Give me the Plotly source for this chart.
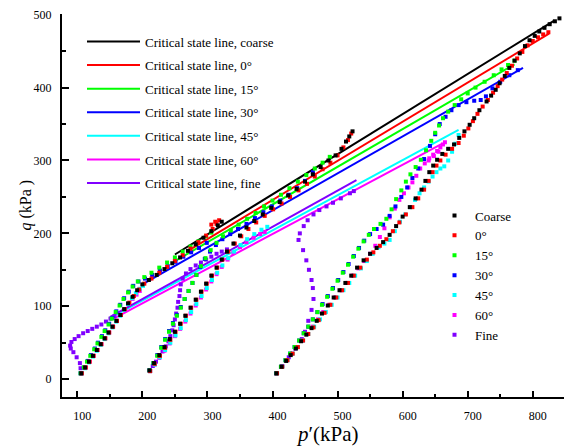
import plotly.graph_objects as go

# ---------------- data (p', q in kPa) ----------------
coarse = [
    # p0 = 100 kPa
    (106,8),(112,16),(118,24),(124,32),(130,40),(136,48),(142,56),(148,64),(154,72),(160,80),(166,88),
    (172,96),(178,104),(185,113),(192,122),(200,130),(210,136),(222,143),(234,151),(246,159),(258,167),
    (270,176),(282,185),(294,194),(306,203),(316,211),(322,216),
    # p0 = 200 kPa
    (211,12),(218,22),(226,33),(234,44),(242,55),(250,65),(258,76),(266,87),(274,98),(282,109),(290,120),
    (298,131),(306,142),(314,153),(322,164),(330,175),(340,186),(350,197),(360,208),(372,217),(385,226),
    (398,235),(411,243),(424,252),(437,261),(450,271),(462,281),(474,291),(486,300),(497,307),(506,316),
    (513,326),(518,333),(523,340),
    # p0 = 400 kPa
    (406,8),(414,17),(421,25),(428,33),(436,42),(444,52),(452,61),(460,70),(468,80),(476,90),(485,101),
    (494,112),(503,122),(512,132),(521,142),(530,153),(540,163),(550,172),(560,180),(570,188),(580,198),
    (590,210),(600,223),(611,236),(620,248),(629,260),(635,272),(641,284),(647,293),(653,301),(661,309),
    (670,316),(679,322),(687,331),(695,340),(703,349),(710,358),(718,369),(729,381),(736,389),(743,397),
    (749,406),(757,416),(764,427),(772,437),(780,447),(788,457),(795,465),(803,471),(810,477),(818,482),
    (826,487),(834,491),(841,495),
]
deg0 = [
    (107,8),(113,16),(119,24),(125,32),(131,40),(137,48),(143,56),(149,64),(155,72),(161,80),(167,88),
    (173,96),(180,105),(187,114),(195,123),(203,131),(214,138),(226,146),(238,154),(250,162),(262,170),
    (274,179),(286,188),(298,197),(308,206),(314,213),(318,218),(312,216),(306,212),
    (212,11),(219,21),(227,32),(235,43),(243,54),(251,65),(259,76),(267,87),(275,98),(283,109),(291,120),
    (299,131),(307,142),(315,153),(323,164),(332,175),(342,186),(352,196),(363,206),(375,215),(388,224),
    (401,233),(414,241),(427,250),(440,259),(453,268),(465,278),(477,288),(489,297),(500,307),(509,318),
    (516,328),(521,337),
    (407,8),(415,17),(423,26),(431,35),(439,44),(447,53),(455,62),(463,71),(471,81),(480,91),(489,102),
    (498,112),(507,122),(516,132),(525,142),(535,153),(545,164),(555,174),(565,183),(575,192),(585,203),
    (595,215),(605,226),(615,236),(624,248),(633,260),(640,272),(646,284),(652,293),(658,300),(666,308),
    (676,316),(686,324),(694,334),(701,344),(708,354),(715,364),(723,374),(731,383),(739,393),(746,402),
    (753,411),(760,420),(768,430),(776,440),(784,449),(792,458),(800,464),(808,469),(816,473),(824,476),
]
deg15 = [
    (105,8),(110,16),(115,24),(120,32),(126,41),(131,49),(137,58),(142,66),(148,75),(153,83),(159,92),
    (165,101),(171,110),(178,119),(185,127),(193,134),(203,140),(214,146),(226,153),(238,160),(250,167),
    (262,175),(274,182),(286,189),(298,196),(306,201),
    (211,12),(217,22),(223,32),(229,43),(235,54),(241,65),(247,76),(253,87),(259,98),(265,110),(271,121),
    (277,132),(283,143),(290,155),(297,166),(305,177),(314,187),(324,196),(336,204),(348,212),(361,220),
    (374,228),(387,237),(400,245),(413,253),(426,262),(439,271),(452,280),(465,289),(477,297),(488,305),
    (406,8),(413,17),(420,26),(427,35),(434,44),(441,53),(448,63),(455,72),(462,82),(469,92),(476,102),
    (484,113),(492,124),(500,135),(508,146),(516,157),(524,168),(532,179),(540,189),(548,198),(556,206),
    (566,213),(575,220),(583,233),(590,247),(598,259),(605,271),(612,281),(620,291),(628,301),(636,314),
    (644,327),(650,338),(656,348),(662,358),(670,367),(680,376),(690,384),(700,392),(712,400),(726,408),
    (740,417),(752,425),(762,431),(772,437),
]
deg30 = [
    (105,8),(110,16),(116,25),(121,33),(127,42),(132,50),(138,59),(143,67),(149,76),(154,84),(160,93),
    (166,102),(172,111),(179,120),(186,128),(194,134),(204,138),(215,143),(227,149),(239,155),(251,161),
    (263,168),(275,174),(287,180),(299,187),
    (211,12),(217,22),(223,33),(229,44),(235,55),(241,66),(247,77),(253,88),(259,99),(265,110),(271,121),
    (277,132),(283,143),(289,154),(296,165),(304,175),(313,184),(323,192),(335,199),(347,206),(360,213),
    (373,221),(386,229),(399,237),(412,245),(425,253),(438,262),(450,272),(462,284),
    (406,8),(413,17),(420,26),(427,35),(434,44),(441,53),(448,63),(455,72),(462,82),(469,92),(477,103),
    (485,114),(493,125),(501,136),(509,147),(517,158),(525,169),(533,180),(541,190),(550,199),(560,206),
    (570,212),(580,224),(589,237),(598,250),(607,263),(615,276),(624,289),(633,302),(642,320),(650,336),
    (657,350),(666,360),(675,369),(686,376),(698,380),(710,382),(720,383),(728,388),(738,399),(750,408),
    (764,417),(777,424),
]
deg45 = [
    (107,8),(112,15),(118,23),(124,31),(130,39),(136,47),(142,55),(148,63),(154,71),(160,79),(166,87),
    (172,95),(178,103),(184,111),(190,118),(196,124),(201,128),
    (212,11),(219,20),(227,30),(235,40),(243,50),(251,60),(259,70),(267,81),(275,92),(283,103),(291,114),
    (299,125),(307,136),(315,146),(323,156),(332,166),(341,175),(351,184),(361,192),(372,199),(383,205),
    (392,209),
    (407,8),(415,17),(423,26),(431,35),(439,44),(447,53),(455,62),(464,72),(473,82),(482,92),(491,102),
    (500,112),(509,122),(518,132),(527,142),(536,152),(545,162),(554,172),(563,181),(572,186),(580,191),
    (588,203),(596,216),(604,226),(612,236),(619,246),(626,255),(633,263),(640,271),(646,278),(652,284),
    (658,289),(664,292),(670,300),(676,312),(681,323),(686,335),
]
deg60 = [
    (107,8),(113,16),(119,24),(125,32),(131,40),(137,48),(143,56),(149,64),(155,72),(161,80),(167,88),
    (173,96),(179,103),(185,110),(191,116),(196,121),
    (212,11),(219,20),(226,29),(234,39),(242,49),(250,59),(258,69),(266,79),(274,90),(282,101),(290,112),
    (298,123),(306,134),(314,144),(322,154),(331,164),(340,173),(350,181),(360,188),(371,194),(381,199),
    (388,202),
    (406,8),(414,17),(422,26),(430,35),(438,44),(446,53),(454,62),(462,72),(470,82),(478,92),(487,102),
    (496,112),(505,122),(514,132),(523,142),(532,152),(541,162),(550,172),(558,183),(565,195),(572,207),
    (580,222),(588,234),(595,246),(602,255),(609,263),(615,270),(621,279),(627,289),(634,296),(641,303),
    (647,308),(653,313),(658,318),(662,322),(665,325),(655,312),(648,306),(640,300),
]
fine = [
    (106,8),(105,15),(104,22),(99,30),(94,37),(90,42),(89,46),(91,51),(96,55),(102,59),(109,63),
    (116,66),(123,69),(130,72),(137,75),(144,79),(151,83),(157,86),
    (211,12),(216,18),(221,24),(226,31),(231,38),(236,45),(240,52),(243,59),(246,67),(248,74),(250,82),
    (252,90),(254,98),(255,106),(257,114),(258,122),(259,130),(262,138),(267,145),(274,151),(282,156),
    (290,160),(298,164),(306,168),(314,172),(322,175),(330,178),
    (406,8),(415,18),(425,30),(435,42),(445,55),(450,65),(455,80),(460,95),(463,110),(462,125),(460,136),
    (456,150),(452,163),(447,177),(440,191),(442,200),(448,210),(454,218),(463,226),(472,232),(483,237),
    (493,242),(505,248),(519,255),(525,258),
]

series_data = [coarse, deg0, deg15, deg30, deg45, deg60, fine]
series_names = ["Coarse", "0°", "15°", "30°", "45°", "60°", "Fine"]
series_colors = ["#000000", "#FF0000", "#00FF00", "#0000FF", "#00FFFF", "#FF00FF", "#8000FF"]

csl_names = ["Critical state line, coarse", "Critical state line, 0°", "Critical state line, 15°",
             "Critical state line, 30°", "Critical state line, 45°", "Critical state line, 60°",
             "Critical state line, fine"]
csl_p = [[250, 833], [270, 825], [250, 772], [200, 785], [155, 686], [158, 661], [150, 529]]
csl_q = [[171, 492], [176, 474], [162, 432], [130, 427], [86, 342], [84, 323], [85, 273]]

x_ticks = [100, 200, 300, 400, 500, 600, 700, 800]
x_minor = [150, 250, 350, 450, 550, 650, 750]
y_ticks = [0, 100, 200, 300, 400, 500]
y_minor = [50, 150, 250, 350, 450]

# ---------------- figure ----------------
FONT = "Liberation Serif, Times New Roman, Times, serif"
fig = go.Figure()

for i in range(len(csl_names)):
    fig.add_trace(go.Scatter(
        x=csl_p[i], y=csl_q[i], mode="lines", name=csl_names[i],
        line=dict(color=series_colors[i], width=2),
        legend="legend", legendgroup="l%d" % i, legendrank=100 + i))

# drawn in reverse so that the coarse points sit on top; legend keeps Coarse first
for i in reversed(range(len(series_names))):
    p = [pt[0] for pt in series_data[i]]
    q = [pt[1] for pt in series_data[i]]
    fig.add_trace(go.Scatter(
        x=p, y=q, mode="markers", name=series_names[i],
        marker=dict(symbol="square", size=4, color=series_colors[i], line=dict(width=0)),
        legend="legend2", legendgroup="m%d" % i, legendrank=100 + i))

W, H = 564, 448
fig.update_layout(
    width=W, height=H,
    margin=dict(l=62, r=0, t=14, b=51, autoexpand=False),
    paper_bgcolor="white", plot_bgcolor="white",
    font=dict(family=FONT, size=12, color="black"),
    showlegend=True,
    legend=dict(xref="container", yref="container", x=82 / W, y=1 - 26.5 / H,
                xanchor="left", yanchor="top", font=dict(family=FONT, size=13),
                itemwidth=53, tracegroupgap=3.7, traceorder="grouped",
                bgcolor="rgba(0,0,0,0)", borderwidth=0),
    legend2=dict(xref="container", yref="container", x=434 / W, y=1 - 200.5 / H,
                 xanchor="left", yanchor="top", font=dict(family=FONT, size=13),
                 itemwidth=31, tracegroupgap=0, traceorder="grouped",
                 bgcolor="rgba(0,0,0,0)", borderwidth=0),
    xaxis=dict(range=[76.5, 848], tickmode="array", tickvals=x_ticks,
               ticks="inside", ticklen=6, tickwidth=1.5, tickcolor="black",
               showline=True, linewidth=2, linecolor="black",
               showgrid=False, zeroline=False, ticklabelshift=5, ticklabelstandoff=7,
               tickfont=dict(family=FONT, size=12), automargin=False,
               minor=dict(tickmode="array", tickvals=x_minor, ticks="inside",
                          ticklen=3, tickwidth=1.5, tickcolor="black", showgrid=False)),
    yaxis=dict(range=[-24.5, 501], tickmode="array", tickvals=y_ticks,
               ticks="inside", ticklen=7, tickwidth=1.5, tickcolor="black",
               showline=True, linewidth=2, linecolor="black",
               showgrid=False, zeroline=False, ticklabelstandoff=6,
               tickfont=dict(family=FONT, size=12), automargin=False,
               minor=dict(tickmode="array", tickvals=y_minor, ticks="inside",
                          ticklen=4, tickwidth=1.5, tickcolor="black", showgrid=False)),
    annotations=[
        dict(text="<i>p</i>′(kPa)", xref="paper", yref="paper",
             x=(327 - 62) / 502, y=-(434 - 397) / 383, xanchor="center", yanchor="middle",
             showarrow=False, font=dict(family=FONT, size=21)),
        dict(text="<i>q</i> (kPa )", xref="paper", yref="paper",
             x=-(62 - 25) / 502, y=0.5, xanchor="center", yanchor="middle", textangle=-90,
             showarrow=False, font=dict(family=FONT, size=16)),
    ],
)

fig.write_html("out.html")
